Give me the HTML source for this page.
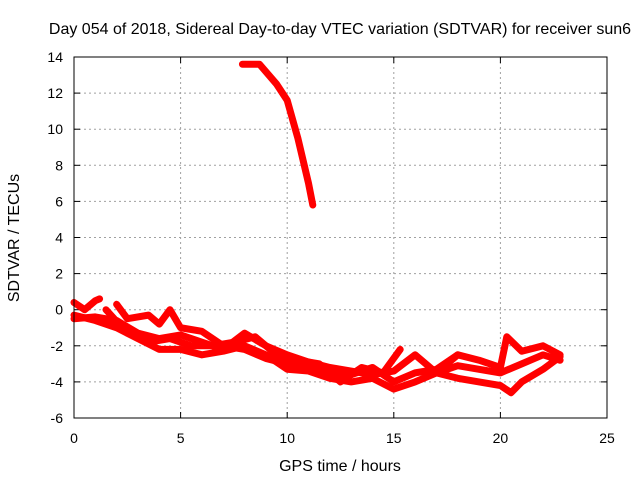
<!DOCTYPE html>
<html><head><meta charset="utf-8"><style>
body{margin:0;background:#fff}
svg{display:block;font-family:"Liberation Sans",sans-serif}
</style></head><body>
<svg id="c" width="640" height="480">
<rect width="640" height="480" fill="#fff"/>
<text x="340" y="34" text-anchor="middle" font-size="16">Day 054 of 2018, Sidereal Day-to-day VTEC variation (SDTVAR) for receiver sun6</text>
<g id="grid"></g><g id="ticks"></g><g id="series"></g>
<rect x="74" y="57" width="533" height="361" fill="none" stroke="#000"/>
<text x="340" y="471" text-anchor="middle" font-size="16">GPS time / hours</text>
<text transform="translate(19,238) rotate(-90)" text-anchor="middle" font-size="16">SDTVAR / TECUs</text>
</svg>
<script>
const xTicks=[0,5,10,15,20,25];
const yTicks=[-6,-4,-2,0,2,4,6,8,10,12,14];
const arcHigh=[[7.9,13.6],[8.7,13.6],[9.5,12.5],[10,11.6],[10.5,9.5],[11,7],[11.2,5.8]];
const arc1=[[0,0.4],[0.5,0],[1,0.5],[1.2,0.6]];
const arc2=[[0,-0.3],[1,-0.6],[2,-1],[3,-1.6],[4,-2.2],[5,-2.2],[6,-2.5],[7,-2.3],[8,-2],[9,-2.5],[10,-3.3],[11,-3.4],[12,-3.8],[13,-4],[14,-3.8],[15,-4.4],[16,-4],[17,-3.5],[18,-3.8],[19,-4],[20,-4.2],[20.5,-4.6],[21,-4],[22,-3.3],[22.8,-2.6]];
const arc3=[[0,-0.5],[1,-0.4],[2,-0.6],[3,-1.3],[4,-1.6],[5,-1.4],[6,-1.8],[7,-2.2],[8,-1.3],[9,-2],[10,-2.5],[11,-2.9],[12,-3.2],[13,-3.4],[14,-3.6],[15,-3.4],[16,-2.5],[17,-3.5],[18,-3.1],[19,-3.3],[20,-3.5],[21,-3],[22,-2.5],[22.8,-2.8]];
const arc4=[[1.5,0],[2.5,-1.3],[3.5,-1.8],[4.5,-1.6],[5.5,-2],[6.5,-2],[7.5,-1.8],[8.5,-1.5],[9.5,-2.5],[10.5,-2.8],[11.5,-3],[12.5,-4],[13.5,-3.2],[14.5,-3.5],[15.3,-2.2]];
const arc5=[[2,0.3],[2.5,-0.5],[3.5,-0.3],[4,-0.8],[4.5,0],[5,-1],[6,-1.2],[7,-2],[8,-2.2],[9,-2.7],[10,-3],[11,-3.1],[12,-3.5],[13,-3.6],[14,-3.2],[15,-4],[16,-3.5],[17,-3.3],[18,-2.5]];
const arc6=[[17.5,-3],[18,-2.5],[19,-2.8],[20,-3.2],[20.3,-1.5],[21,-2.3],[22,-2],[22.8,-2.5]];
const X=v=>74+(v-0)/25*533, Y=v=>418-(v+6)/20*361;
const NS="http://www.w3.org/2000/svg";
function mk(t,a,p){const e=document.createElementNS(NS,t);for(const k in a)e.setAttribute(k,a[k]);p.appendChild(e);return e;}
const g=document.getElementById('grid'),tk=document.getElementById('ticks'),s=document.getElementById('series');
xTicks.forEach(v=>{
 if(v>0&&v<25){const l=mk('line',{x1:X(v),x2:X(v),y1:57,y2:418,stroke:'#a0a0a0','stroke-dasharray':'2,3'},g);
 }
 mk('line',{x1:X(v),x2:X(v),y1:418,y2:412,stroke:'#000'},tk);mk('line',{x1:X(v),x2:X(v),y1:57,y2:63,stroke:'#000'},tk);
 const t=mk('text',{x:X(v),y:443,'text-anchor':'middle','font-size':14},tk);t.textContent=v;
 
});
yTicks.forEach(v=>{
 if(v>-6&&v<14){const l=mk('line',{x1:74,x2:607,y1:Y(v),y2:Y(v),stroke:'#a0a0a0','stroke-dasharray':'2,3'},g);
 }
 mk('line',{x1:74,x2:80,y1:Y(v),y2:Y(v),stroke:'#000'},tk);mk('line',{x1:607,x2:601,y1:Y(v),y2:Y(v),stroke:'#000'},tk);
 const t=mk('text',{x:63,y:Y(v)+5,'text-anchor':'end','font-size':14},tk);t.textContent=v;
 
});
[arcHigh,arc1,arc2,arc3,arc4,arc5,arc6].forEach((d,i)=>{
 const p=mk('polyline',{points:d.map(q=>X(q[0])+','+Y(q[1])).join(' '),fill:'none',stroke:'#f00','stroke-width':7,'stroke-linejoin':'round','stroke-linecap':'round'},s);
 
 
});
</script>
</body></html>
